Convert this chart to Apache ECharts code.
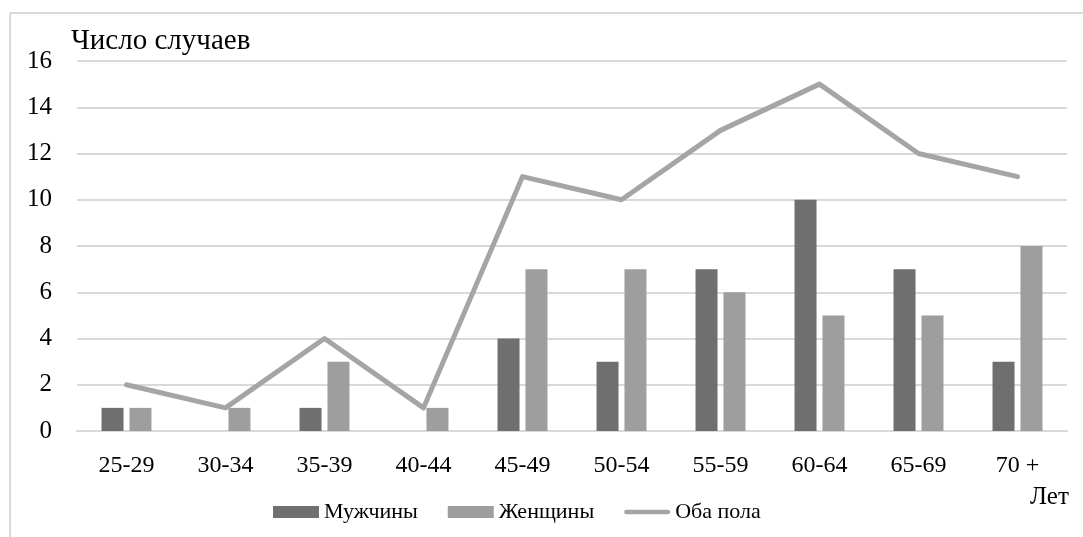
<!DOCTYPE html>
<html>
<head>
<meta charset="utf-8">
<script src="https://cdn.jsdelivr.net/npm/echarts@6/dist/echarts.min.js"></script>
<style>
  html, body { margin: 0; padding: 0; background: #fff; }
  #chart { width: 1083px; height: 537px; }
</style>
</head>
<body>
<div id="chart"></div>
<script>
// Age groups and case counts
const ageGroups = ['25-29', '30-34', '35-39', '40-44', '45-49', '50-54', '55-59', '60-64', '65-69', '70 +'];
const men   = [1, 0, 1, 0, 4, 3, 7, 10, 7, 3];
const women = [1, 1, 3, 1, 7, 7, 6, 5, 5, 8];
const both  = [2, 1, 4, 1, 11, 10, 13, 15, 12, 11];
const yTicks = { min: 0, max: 16, step: 2 };

const serif = '"Liberation Serif", "Times New Roman", serif';
const border = '#d9d9d9';
const lineColor = '#a5a5a5';

const chart = echarts.init(document.getElementById('chart'));
chart.setOption({
  backgroundColor: '#fff',
  animation: false,
  textStyle: { fontFamily: serif, color: '#000' },
  grid: { left: 77, right: 16, top: 61, bottom: 106, containLabel: false },
  xAxis: {
    type: 'category',
    data: ageGroups,
    axisLine: { show: true, lineStyle: { color: border, width: 2 } },
    axisTick: { show: false },
    axisLabel: { fontFamily: serif, fontSize: 24, color: '#000', margin: 23 }
  },
  yAxis: {
    type: 'value',
    min: yTicks.min,
    max: yTicks.max,
    interval: yTicks.step,
    axisLine: { show: false },
    axisTick: { show: false },
    axisLabel: { fontFamily: serif, fontSize: 25, color: '#000', margin: 25 },
    splitLine: { lineStyle: { color: border, width: 2 } }
  },
  legend: {
    left: 268,
    top: 496,
    itemWidth: 46,
    itemHeight: 12,
    itemGap: 30,
    symbolKeepAspect: true,
    textStyle: { fontFamily: serif, fontSize: 22, color: '#000' },
    data: [
      { name: 'Мужчины', icon: 'rect' },
      { name: 'Женщины', icon: 'rect' },
      { name: 'Оба пола', icon: 'path://M2.5,0 L47.5,0 A2.5,2.5 0 0 1 47.5,5 L2.5,5 A2.5,2.5 0 0 1 2.5,0 Z' }
    ]
  },
  graphic: [
    { type: 'line', shape: { x1: 10, y1: 13, x2: 1083, y2: 13 }, style: { stroke: border, lineWidth: 2 }, silent: true },
    { type: 'line', shape: { x1: 10, y1: 13, x2: 10, y2: 537 }, style: { stroke: border, lineWidth: 2 }, silent: true },
    { type: 'text', left: 71, top: 27, style: { text: 'Число случаев', font: '29px ' + serif, fill: '#000' } },
    { type: 'text', left: 1030, top: 485, style: { text: 'Лет', font: '25px ' + serif, fill: '#000' } }
  ],
  series: [
    {
      name: 'Мужчины',
      type: 'bar',
      data: men,
      barWidth: 22,
      barGap: '27%',
      itemStyle: { color: '#6f6f6f' }
    },
    {
      name: 'Женщины',
      type: 'bar',
      data: women,
      barWidth: 22,
      itemStyle: { color: '#9e9e9e' }
    },
    {
      name: 'Оба пола',
      type: 'line',
      data: both,
      showSymbol: false,
      symbol: 'none',
      lineStyle: { color: lineColor, width: 5, join: 'round', cap: 'round' },
      itemStyle: { color: lineColor },
      z: 3
    }
  ]
});
</script>
</body>
</html>
